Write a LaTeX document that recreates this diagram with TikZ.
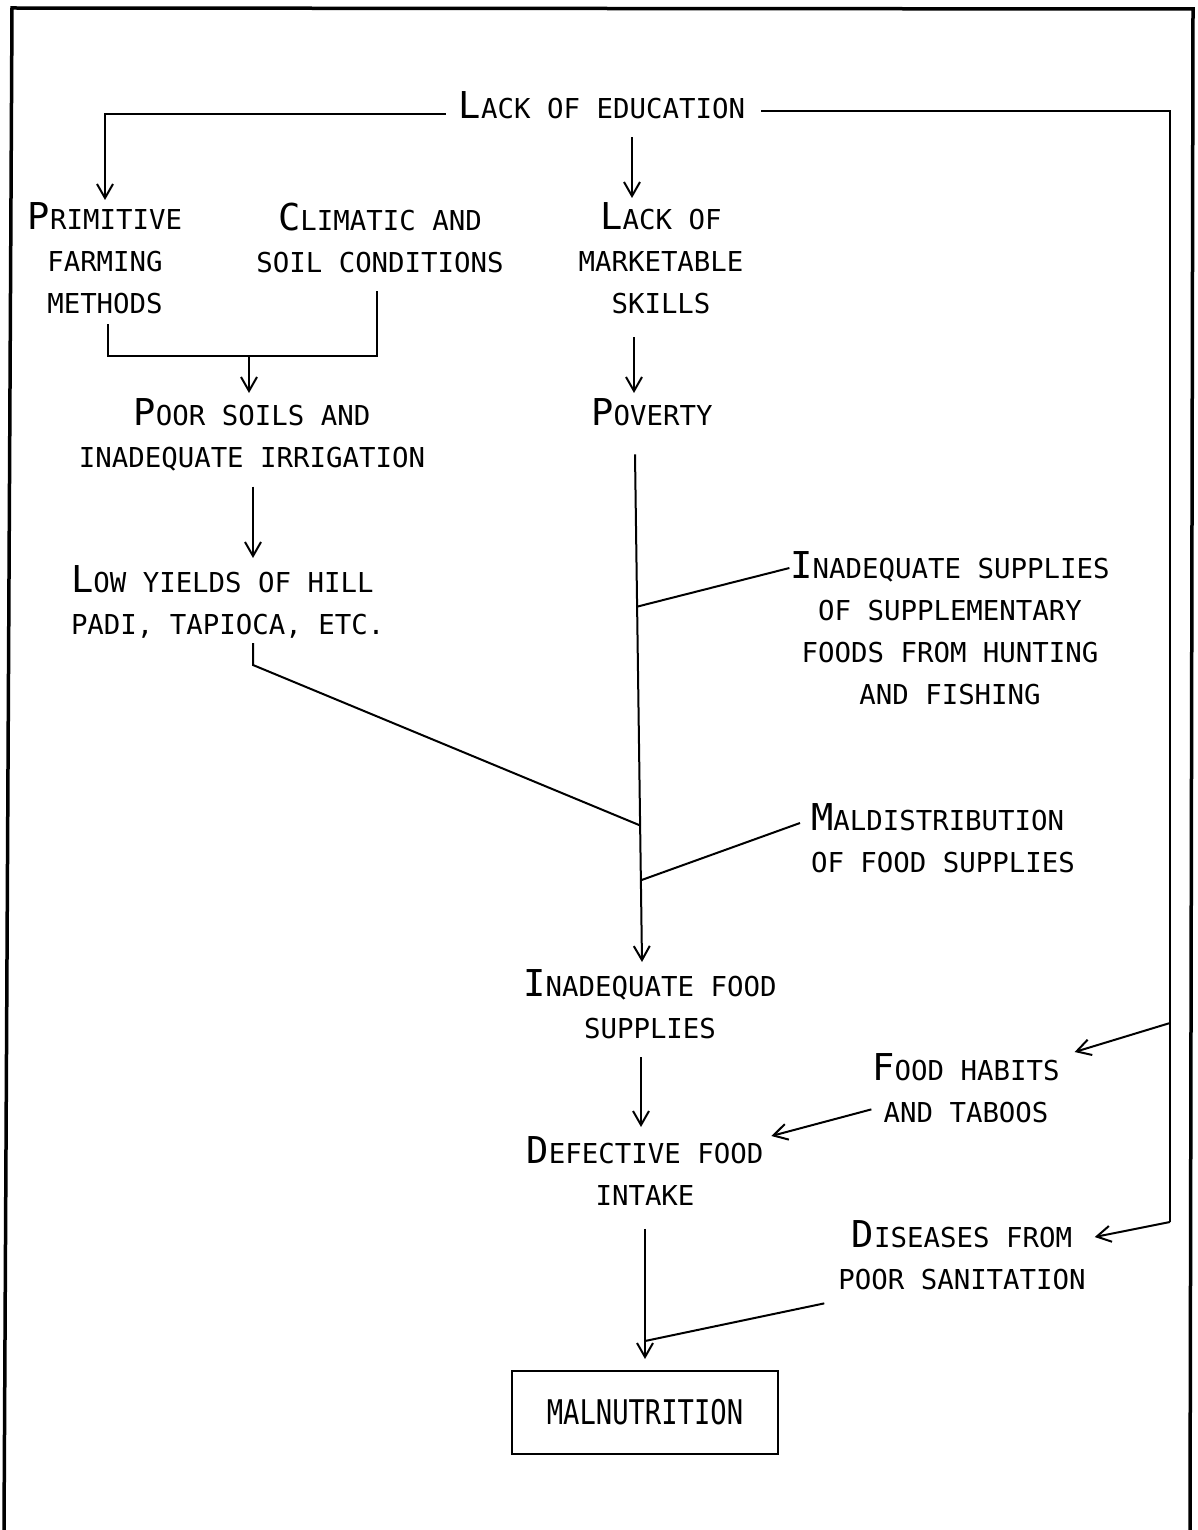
\documentclass[tikz,border=0pt]{standalone}
\usepackage{fontspec}
\usepackage{graphicx}
\usetikzlibrary{arrows.meta, calc}
\newfontfamily\gothic{DejaVu Sans Mono}
\newcommand{\ini}[1]{{\fontsize{37}{42}\selectfont #1}}
\tikzset{
  every picture/.style={line width=2pt},
  lbl/.style={font=\gothic\fontsize{27.4}{42}\selectfont, inner sep=0pt, align=center},
  malbox/.style={draw, line width=2pt, font=\gothic, minimum width=266pt, minimum height=83pt, inner sep=0pt},
  arrow/.style={-{Straight Barb[length=14pt,width=16pt]}, line width=2pt},
  link/.style={line width=2pt},
  frame/.style={line width=3.5pt},
}

\begin{document}
\begin{tikzpicture}[x=1pt, y=-1pt]
  \useasboundingbox (0,0) rectangle (1197,1530);
  \fill[white] (0,0) rectangle (1197,1530);
  \draw[frame] (4,1530) -- (12,8) -- (1193,9) -- (1190,1530);
  % causes
  \node[lbl, anchor=north] (edu) at (602,91) {\ini{L}ACK OF EDUCATION};
  \node[lbl, anchor=north] (prim) at (105,202) {\ini{P}RIMITIVE\\FARMING\\METHODS};
  \node[lbl, anchor=north] (clim) at (380,202) {\ini{C}LIMATIC AND\\SOIL CONDITIONS};
  \node[lbl, anchor=north] (skills) at (661,202) {\ini{L}ACK OF\\MARKETABLE\\SKILLS};
  \node[lbl, anchor=north] (soils) at (252,398) {\ini{P}OOR SOILS AND\\INADEQUATE IRRIGATION};
  \node[lbl, anchor=north] (poverty) at (652,398) {\ini{P}OVERTY};
  \node[lbl, anchor=north west, align=left] (yields) at (70,565) {\ini{L}OW YIELDS OF HILL\\PADI, TAPIOCA, ETC.};
  \node[lbl, anchor=north] (supplies) at (950,551) {\ini{I}NADEQUATE SUPPLIES\\OF SUPPLEMENTARY\\FOODS FROM HUNTING\\AND FISHING};
  \node[lbl, anchor=north west, align=left] (maldist) at (810,803) {\ini{M}ALDISTRIBUTION\\OF FOOD SUPPLIES};
  % effects
  \node[lbl, anchor=north] (foodsup) at (650,969) {\ini{I}NADEQUATE FOOD\\SUPPLIES};
  \node[lbl, anchor=north] (habits) at (966,1053) {\ini{F}OOD HABITS\\AND TABOOS};
  \node[lbl, anchor=north] (intake) at (645,1136) {\ini{D}EFECTIVE FOOD\\INTAKE};
  \node[lbl, anchor=north] (diseases) at (962,1220) {\ini{D}ISEASES FROM\\POOR SANITATION};
  \node[malbox] (malnut) at (645,1412.5) {\scalebox{0.8}[1]{\fontsize{34}{34}\selectfont MALNUTRITION}};
  % lack of education branches
  \coordinate (rmid) at (1170,1023);
  \coordinate (rbot) at (1170,1222);
  \draw[arrow] ([xshift=-12pt,yshift=-8pt]edu.west) -| ([yshift=2pt]prim.north);
  \draw[arrow] ([xshift=30pt,yshift=-17pt]edu.south) -- ([xshift=-29pt,yshift=4pt]skills.north);
  \draw[link] ([xshift=15pt,yshift=-5pt]edu.east) -| (rbot);
  \draw[arrow] (rmid) -- ([xshift=14pt,yshift=1pt]habits.north east);
  \draw[arrow] (rbot) -- ([xshift=8pt,yshift=-17pt]diseases.north east);
  % farming side
  \coordinate (cj) at ([xshift=-3pt,yshift=-82pt]clim.south);
  \draw[link] ([xshift=3pt,yshift=-9pt]prim.south) |- (cj) -- ([xshift=-3pt,yshift=-17pt]clim.south);
  \path ([xshift=-3pt]soils.north) coordinate (sn);
  \draw[arrow] (sn |- cj) -- ([yshift=5pt]sn);
  \draw[arrow] ([xshift=1pt,yshift=-14pt]soils.south) -- ([xshift=183pt,yshift=7pt]yields.north west);
  % poverty line
  \draw[arrow] ([xshift=-27pt,yshift=-22pt]skills.south) -- ([xshift=-18pt,yshift=5pt]poverty.north);
  \coordinate (pvtop) at ([xshift=-17pt,yshift=-27pt]poverty.south);
  \coordinate (pvbot) at ([xshift=-8pt,yshift=7pt]foodsup.north);
  \draw[arrow] (pvtop) -- (pvbot);
  \draw[link] ([yshift=-17pt]supplies.north west) -- ($(pvtop)!0.3!(pvbot)$);
  \draw[link] ([xshift=183pt,yshift=-78pt]yields.north west) -- ++(0,22) -- ($(pvtop)!0.731!(pvbot)$);
  \draw[link] ([xshift=-10pt,yshift=-20pt]maldist.north west) -- ($(pvtop)!0.839!(pvbot)$);
  % down to malnutrition
  \draw[arrow] ([xshift=-9pt,yshift=-17pt]foodsup.south) -- ([xshift=-4pt,yshift=9pt]intake.north);
  \draw[arrow] ([yshift=15pt]habits.south west) -- ([xshift=7pt]intake.north east);
  \draw[arrow] ([yshift=-22pt]intake.south) -- ([yshift=11pt]malnut.north);
  \draw[link] ([xshift=-13pt,yshift=-12pt]diseases.south west) -- ([yshift=29pt]malnut.north);
\end{tikzpicture}
\end{document}
